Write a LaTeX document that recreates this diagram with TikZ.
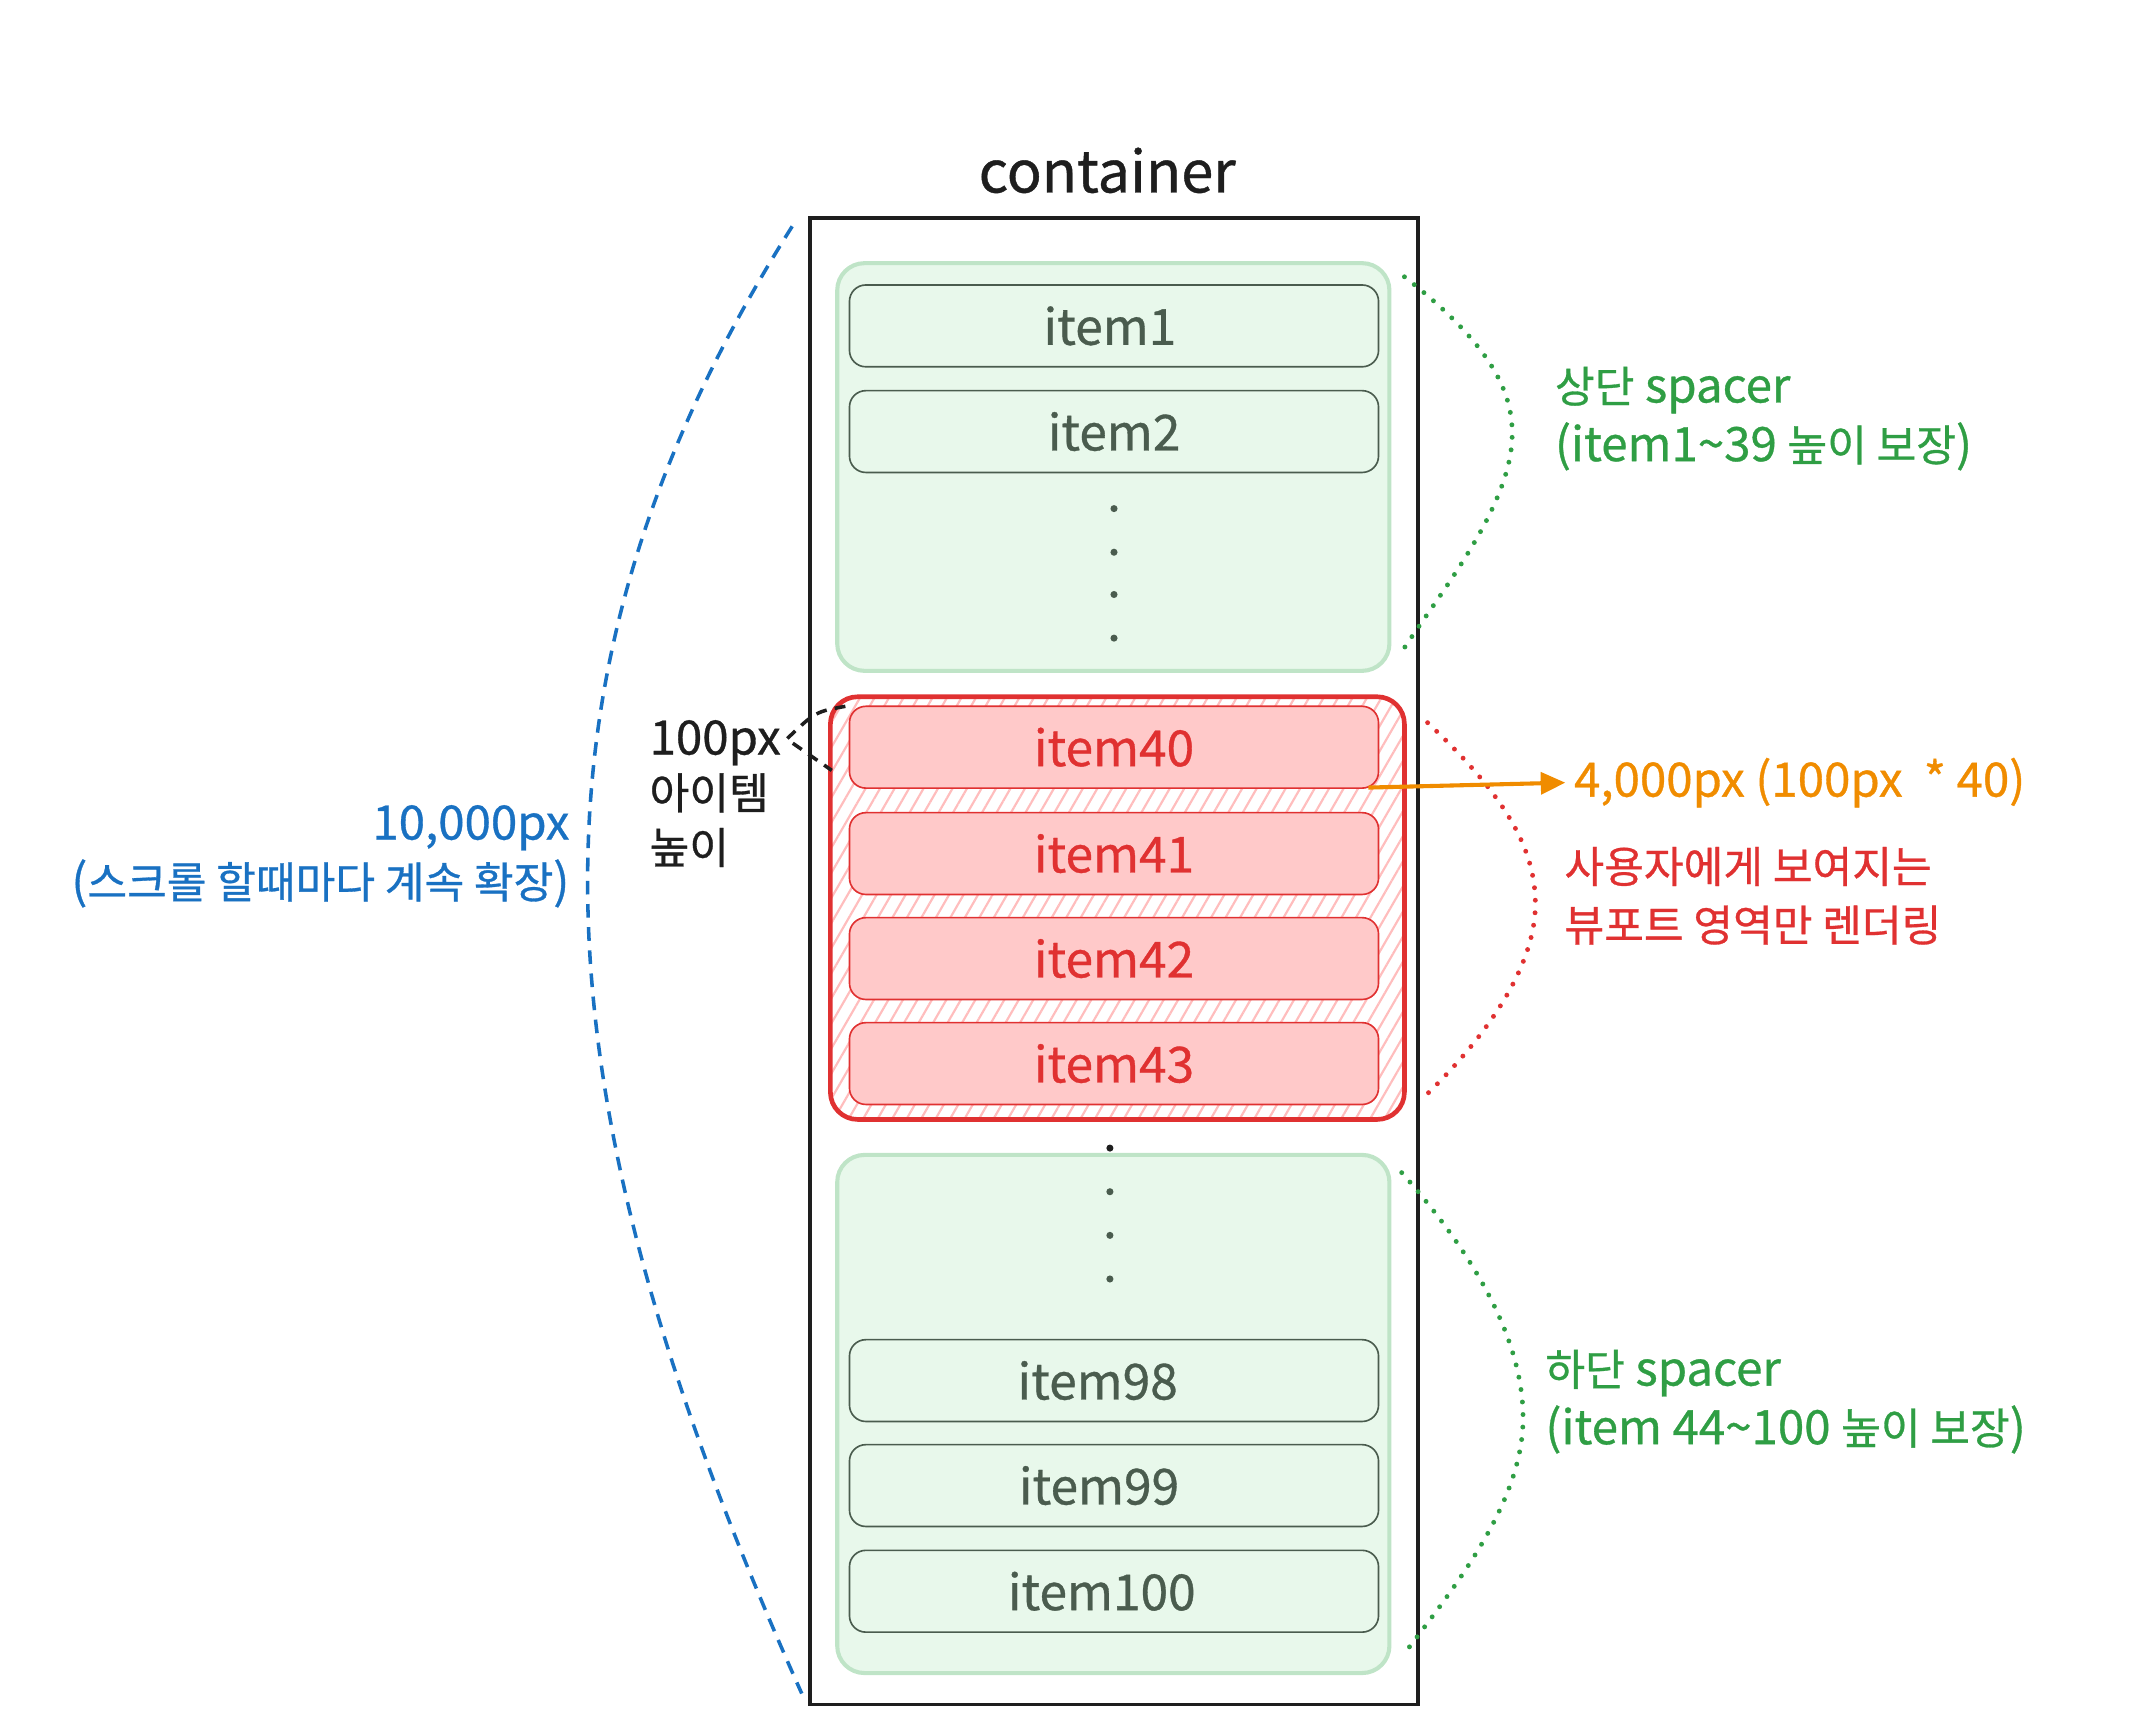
\documentclass[tikz,border=0pt]{standalone}
\usepackage{fontspec}
\setmainfont[FakeBold=0.7]{Noto Sans CJK KR}
\newfontfamily\kr[Scale=0.91,FakeBold=0.7]{Noto Sans CJK KR}
\usetikzlibrary{fit,patterns.meta,arrows.meta}
\definecolor{ink}{HTML}{1E1E1E}
\definecolor{itemgray}{HTML}{4A5C4E}
\definecolor{spfill}{HTML}{E8F8EB}
\definecolor{spline}{HTML}{BFE4C7}
\definecolor{vred}{HTML}{E03131}
\definecolor{vpink}{HTML}{FFC9C9}
\definecolor{vhatch}{HTML}{FFBDBD}
\definecolor{vgreen}{HTML}{2F9E44}
\definecolor{vblue}{HTML}{1971C2}
\definecolor{vorange}{HTML}{F08C00}

\begin{document}
\begin{tikzpicture}[x=0.5pt, y=-0.5pt,
    lbl/.style={font=\fontsize{17.4}{21.5}\selectfont, inner sep=0pt},
    itembox/.style={draw=itemgray, line width=0.6pt, fill=spfill, rounded corners=6pt,
        minimum width=194pt, minimum height=30pt, text=itemgray,
        font=\fontsize{18.2}{22}\selectfont},
    viewbox/.style={itembox, draw=vred, fill=vpink, text=vred},
    spacer/.style={draw=spline, fill=spfill, line width=1.5pt, rounded corners=10pt, inner sep=0pt},
    gap/.style={circle, fill=itemgray, inner sep=0pt, minimum size=2.6pt},
    brace/.style={line width=1.8pt, line cap=round, dash pattern=on 0pt off 4.6pt}]
    \useasboundingbox (0,0) rectangle (1568,1273);

    % Container
    \node[draw=ink, line width=1.3pt, inner sep=0pt, fit={(594,160) (1040,1250)}] (box) {};
    \node[lbl, text=ink, font=\fontsize{21.2}{26}\selectfont] (title) at (812,125) {container};

    % Spacers
    \node[spacer, fit={(614,193) (1019,492)}] (topsp) {};
    \node[spacer, fit={(614,847) (1019,1227)}] (botsp) {};

    % Rendered viewport
    \node[draw=vred, line width=1.7pt, rounded corners=10pt, inner sep=0pt,
        pattern={Lines[angle=60,distance=4.6pt,line width=0.8pt]}, pattern color=vhatch,
        fit={(609,511) (1030,821)}] (view) {};

    % Items
    \node[itembox] (i1) at (817,239) {item1\hspace*{3pt}};
    \node[itembox] (i2) at (817,316.5) {item2};
    \foreach \y in {373,405,436,468}
        \node[gap] (ta\y) at (817,\y) {};

    \node[viewbox] (i40) at (817,548) {item40};
    \node[viewbox] (i41) at (817,626) {item41};
    \node[viewbox] (i42) at (817,703) {item42};
    \node[viewbox] (i43) at (817,780) {item43};

    \node[gap, fill=ink] (tb842) at (814,842) {};
    \foreach \y in {874,906,938}
        \node[gap] (tb\y) at (814,\y) {};
    \node[itembox] (i98) at (817,1012.5) {item98\hspace*{12pt}};
    \node[itembox] (i99) at (817,1089.5) {item99\hspace*{11pt}};
    \node[itembox] (i100) at (817,1167) {item100\hspace*{9pt}};

    % Labels
    \node[lbl, text=vblue, anchor=east, align=right] (totlbl) at (418,628)
        {10,000px\\({\kr 스크롤 할때마다 계속 확장})};
    \node[lbl, text=ink, anchor=west, align=left, font=\fontsize{17.4}{20}\selectfont] (rowlbl) at (476,582)
        {100px\\{\kr 아이템}\\{\kr 높이}};
    \node[lbl, text=vgreen, anchor=west, align=left] (toplbl) at (1140,307)
        {{\kr 상단} spacer\\(item1\textasciitilde 39 {\kr 높이 보장})};
    \node[lbl, text=vorange, anchor=west] (sumlbl) at (1154,574) {4,000px (100px~~* 40)};
    \node[lbl, text=vred, anchor=west, align=left] (viewlbl) at (1147,657)
        {{\kr 사용자에게 보여지는}\\{\kr 뷰포트 영역만 렌더링}};
    \node[lbl, text=vgreen, anchor=west, align=left] (botlbl) at (1133,1028)
        {{\kr 하단} spacer\\(item 44\textasciitilde 100 {\kr 높이 보장})};

    % Braces
    \coordinate (bl1) at (581,166);
    \coordinate (bl2) at (588,1242);
    \draw[vblue, line width=1.3pt, dash pattern=on 5pt off 3.5pt]
        (bl1) .. controls (370,500) and (390,800) .. (bl2);

    \coordinate (dk1) at (620,518);
    \coordinate (dk0) at (577,542);
    \coordinate (dk2) at (610,565);
    \draw[ink, line width=1.3pt, dash pattern=on 4pt off 3pt]
        (dk1) .. controls (598,522) .. (dk0) -- (dk2);

    \coordinate (gt1) at (1030,203);
    \coordinate (gt2) at (1030,475);
    \draw[brace, vgreen] (gt1) .. controls (1090,250) and (1110,285) .. (1109,320)
        .. controls (1108,370) and (1060,430) .. (gt2);

    \coordinate (rt1) at (1047,530);
    \coordinate (rt2) at (1047,802);
    \draw[brace, vred] (rt1) .. controls (1100,580) and (1127,620) .. (1126,665)
        .. controls (1125,710) and (1090,760) .. (rt2);

    \coordinate (gb1) at (1028,860);
    \coordinate (gb2) at (1032,1210);
    \draw[brace, vgreen] (gb1) .. controls (1090,930) and (1117,990) .. (1117,1040)
        .. controls (1117,1100) and (1070,1160) .. (gb2);

    % Height arrow
    \draw[vorange, line width=1.5pt, -{Triangle[length=9pt,width=8pt]}]
        ([xshift=-4pt,yshift=0.5pt]i40.south east) -- ([xshift=-3pt]sumlbl.west);
\end{tikzpicture}
\end{document}
